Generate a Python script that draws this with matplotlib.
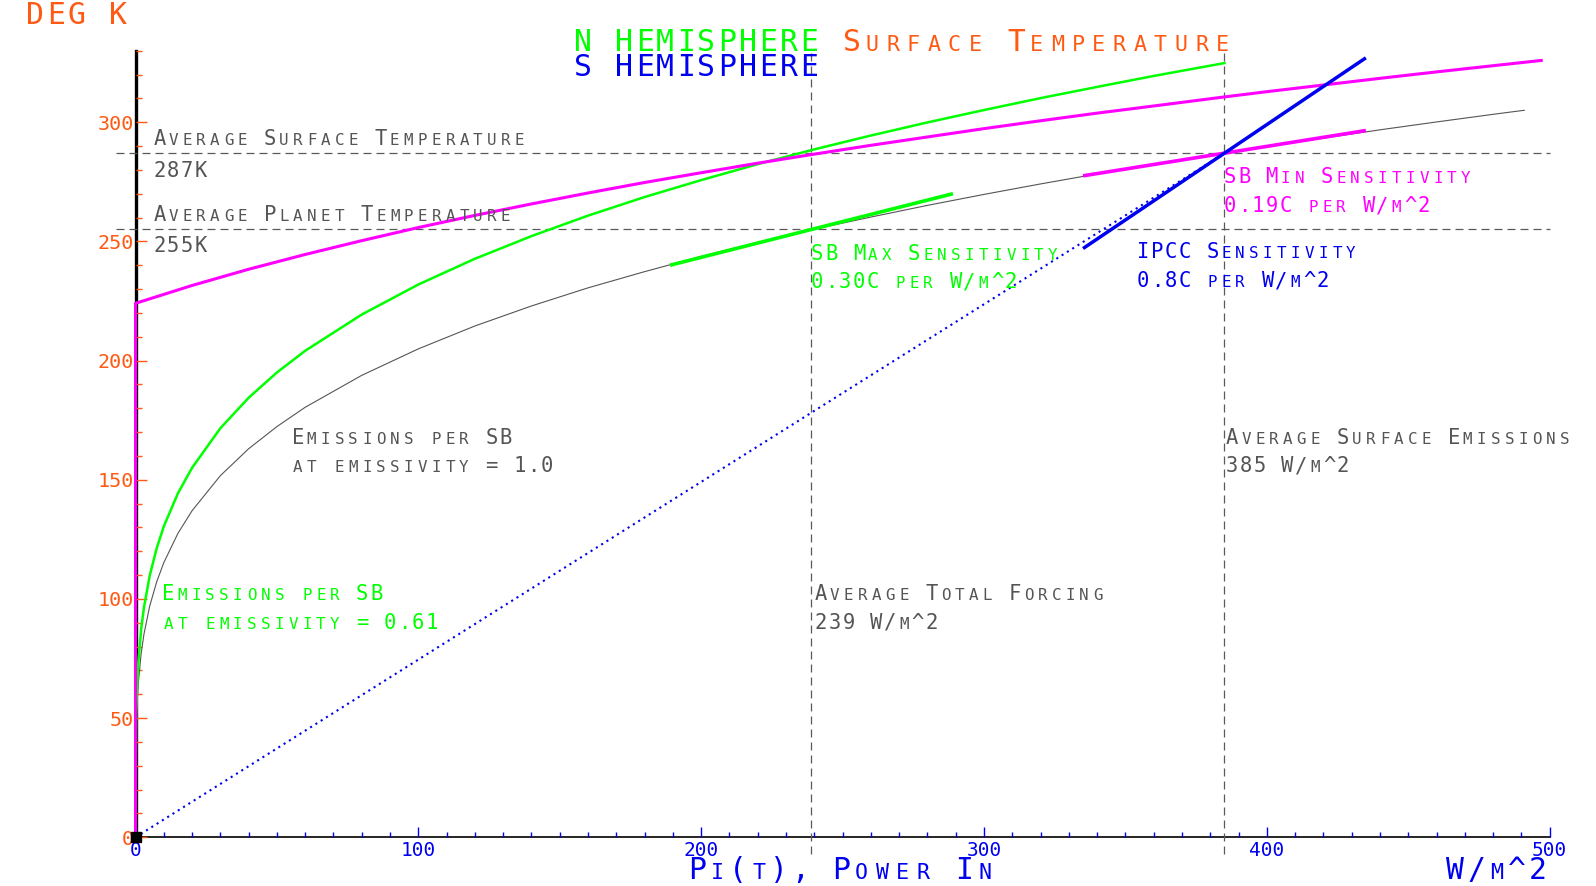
import matplotlib
matplotlib.use("Agg")
import matplotlib.pyplot as plt

DPI = 100
FONT = "DejaVu Sans Mono"

# ---------------- data ----------------
# Emissions per SB at emissivity = 1.0 (gray)
p_gray = [0, 0.25, 0.5, 1, 2, 3, 5, 7.5, 10, 15, 20, 30, 40, 50, 60, 80, 100, 120, 140, 160,
          180, 200, 220, 240, 260, 280, 300, 320, 340, 360, 385, 400, 420, 440, 460, 480, 491]
t_gray = [0, 45.8, 54.5, 64.8, 77.1, 85.3, 96.9, 107.2, 115.2, 127.5, 137.0, 151.7, 163.0, 172.3,
          180.4, 193.8, 204.9, 214.5, 222.9, 230.5, 237.3, 243.7, 249.6, 255.1, 260.2, 265.1,
          269.7, 274.1, 278.3, 282.3, 287.0, 289.8, 293.3, 296.8, 300.1, 303.3, 305.0]
# Emissions per SB at emissivity = 0.61 (green)
p_green = [0, 0.25, 0.5, 1, 2, 3, 5, 7.5, 10, 15, 20, 30, 40, 50, 60, 80, 100, 120, 140, 160,
           180, 200, 220, 240, 260, 280, 300, 320, 340, 360, 385]
t_green = [0, 51.8, 61.7, 73.3, 87.2, 96.5, 109.6, 121.3, 130.4, 144.3, 155.0, 171.6, 184.4,
           195.0, 204.1, 219.3, 231.9, 242.7, 252.2, 260.8, 268.6, 275.7, 282.4, 288.6, 294.4,
           299.9, 305.1, 310.1, 314.8, 319.4, 324.8]
# Surface temperature (magenta)
p_mag = [0, 0, 20, 40, 60, 80, 100, 120, 140, 160, 180, 200, 220, 240, 260, 280, 300, 320, 340,
         360, 385, 400, 420, 440, 460, 480, 497]
t_mag = [0, 224.0, 231.5, 238.3, 244.5, 250.3, 255.8, 260.9, 265.7, 270.3, 274.7, 278.8, 282.8,
         286.6, 290.3, 293.8, 297.3, 300.6, 303.8, 306.8, 310.6, 312.8, 315.6, 318.4, 321.1,
         323.7, 325.9]
# sensitivity lines
p_dot, t_dot = [0, 385], [0, 287]
p_ipcc, t_ipcc = [335, 435], [247, 327]
p_min, t_min = [335, 435], [277.5, 296.5]
p_max, t_max = [189, 289], [240, 270]
# reference levels
avg_forcing, avg_emission = 239, 385
avg_planet_T, avg_surface_T = 255, 287

x_major = [0, 100, 200, 300, 400, 500]
x_minor = list(range(0, 501, 10))
y_major = [0, 50, 100, 150, 200, 250, 300]
y_minor = list(range(0, 331, 10))

ORANGE = "#FF5A14"
GREEN = "#00FF00"
BLUE = "#0000F0"
MAGENTA = "#FF00FF"
GRAY = "#555555"
LGRAY = "#5a5a5a"

fig = plt.figure(figsize=(15.96, 8.86), dpi=DPI)
ax = fig.add_axes([0.0849, 0.0550, 0.8861, 0.8878])
ax.set_xlim(0, 500)
ax.set_ylim(0, 330)

for s in ("top", "right"):
    ax.spines[s].set_visible(False)
ax.spines["left"].set_linewidth(2.4)
ax.spines["left"].set_color("black")
ax.spines["left"].set_zorder(1)
ax.spines["bottom"].set_linewidth(1.2)
ax.spines["bottom"].set_color("black")
ax.spines["bottom"].set_zorder(1)

ax.set_xticks(x_major)
ax.set_xticks(x_minor, minor=True)
ax.set_yticks(y_major)
ax.set_yticks(y_minor, minor=True)
ax.set_xticklabels([str(v) for v in x_major], family=FONT, fontsize=14.0, color=BLUE)
ax.set_yticklabels([str(v) for v in y_major], family=FONT, fontsize=14.5, color=ORANGE)
ax.tick_params(axis="x", which="major", direction="in", length=7.2, width=1.0, color=BLUE, pad=2.5)
ax.tick_params(axis="x", which="minor", direction="in", length=3.8, width=1.0, color=BLUE)
ax.tick_params(axis="y", which="major", direction="in", length=8.0, width=1.0, color=ORANGE, pad=1.2)
ax.tick_params(axis="y", which="minor", direction="in", length=4.5, width=1.0, color=ORANGE)

# reference dashed lines
dash = dict(color=LGRAY, lw=0.9, linestyle=(0, (6.4, 4)), clip_on=False, zorder=2)
ax.plot([-7, 500], [avg_surface_T, avg_surface_T], **dash)
ax.plot([-7, 500], [avg_planet_T, avg_planet_T], **dash)
ax.plot([avg_forcing, avg_forcing], [-7, 330], **dash)
ax.plot([avg_emission, avg_emission], [-7, 330], **dash)

# curves
ax.plot(p_gray, t_gray, color="#555555", lw=0.8, zorder=3, clip_on=False)
ax.plot(p_green, t_green, color=GREEN, lw=1.8, zorder=4, clip_on=False)
ax.plot(p_mag, t_mag, color=MAGENTA, lw=2.2, zorder=5, clip_on=False)
ax.plot(p_dot, t_dot, color=BLUE, lw=1.5, linestyle=(0, (1, 2)), zorder=4)
ax.plot(p_max, t_max, color=GREEN, lw=2.6, zorder=6, solid_capstyle="butt")
ax.plot(p_min, t_min, color=MAGENTA, lw=2.6, zorder=6, solid_capstyle="butt")
ax.plot(p_ipcc, t_ipcc, color=BLUE, lw=2.5, zorder=6, solid_capstyle="butt")
ax.plot([0], [0], marker="s", ms=7, color="black", zorder=10, clip_on=False)


def sc(x, y, s, color, big, small, adv, ha="left"):
    """Draw text in a fixed-pitch small-caps style, anchored in data coords."""
    n = len(s)
    start = {"left": 0.0, "center": -n * adv / 2.0, "right": -n * adv}[ha]
    for i, ch in enumerate(s):
        if ch == " ":
            continue
        if ch.islower():
            g, fs = ch.upper(), small
        else:
            g, fs = ch, big
        ax.annotate(g, xy=(x, y), xycoords="data",
                    xytext=(start + (i + 0.5) * adv, 0), textcoords="offset points",
                    ha="center", va="baseline", fontsize=fs, color=color,
                    family=FONT, annotation_clip=False, zorder=8)


# small text: capitals, small capitals, character pitch (points)
S_BIG, S_SM, S_ADV = 14.8, 11.4, 9.97
# large text
L_BIG, L_SM, L_ADV = 21.4, 15.6, 14.83

sc(5.98, 290.6, "Average Surface Temperature", GRAY, S_BIG, S_SM, S_ADV)
sc(5.98, 276.8, "287K", GRAY, S_BIG, S_SM, S_ADV)
sc(5.98, 258.7, "Average Planet Temperature", GRAY, S_BIG, S_SM, S_ADV)
sc(5.98, 245.4, "255K", GRAY, S_BIG, S_SM, S_ADV)
sc(54.9, 165.1, "Emissions per SB", GRAY, S_BIG, S_SM, S_ADV)
sc(54.9, 153.2, "at emissivity = 1.0", GRAY, S_BIG, S_SM, S_ADV)
sc(9.2, 99.4, "Emissions per SB", GREEN, S_BIG, S_SM, S_ADV)
sc(9.2, 87.5, "at emissivity = 0.61", GREEN, S_BIG, S_SM, S_ADV)
sc(238.6, 242.3, "SB Max Sensitivity", GREEN, S_BIG, S_SM, S_ADV)
sc(238.6, 230.4, "0.30C per W/m^2", GREEN, S_BIG, S_SM, S_ADV)
sc(384.6, 274.3, "SB Min Sensitivity", MAGENTA, S_BIG, S_SM, S_ADV)
sc(384.6, 262.2, "0.19C per W/m^2", MAGENTA, S_BIG, S_SM, S_ADV)
sc(353.8, 243.1, "IPCC Sensitivity", BLUE, S_BIG, S_SM, S_ADV)
sc(353.8, 230.7, "0.8C per W/m^2", BLUE, S_BIG, S_SM, S_ADV)
sc(385.3, 165.1, "Average Surface Emissions", GRAY, S_BIG, S_SM, S_ADV)
sc(385.3, 153.2, "385 W/m^2", GRAY, S_BIG, S_SM, S_ADV)
sc(239.9, 99.4, "Average Total Forcing", GRAY, S_BIG, S_SM, S_ADV)
sc(239.9, 87.5, "239 W/m^2", GRAY, S_BIG, S_SM, S_ADV)

sc(-39.05, 341.2, "DEG K", ORANGE, L_BIG, L_SM, L_ADV)
sc(154.5, 330.0, "N HEMISPHERE", GREEN, L_BIG, L_SM, L_ADV)
sc(154.5, 319.3, "S HEMISPHERE", BLUE, L_BIG, L_SM, L_ADV)
sc(249.5, 330.0, "Surface Temperature", ORANGE, L_BIG, L_SM, L_ADV)
sc(194.8, -17.5, "Pi(t), Power In", BLUE, L_BIG, L_SM, L_ADV)
sc(463.0, -17.5, "W/m^2", BLUE, L_BIG, L_SM, L_ADV)

fig.savefig("out.png", dpi=DPI)
